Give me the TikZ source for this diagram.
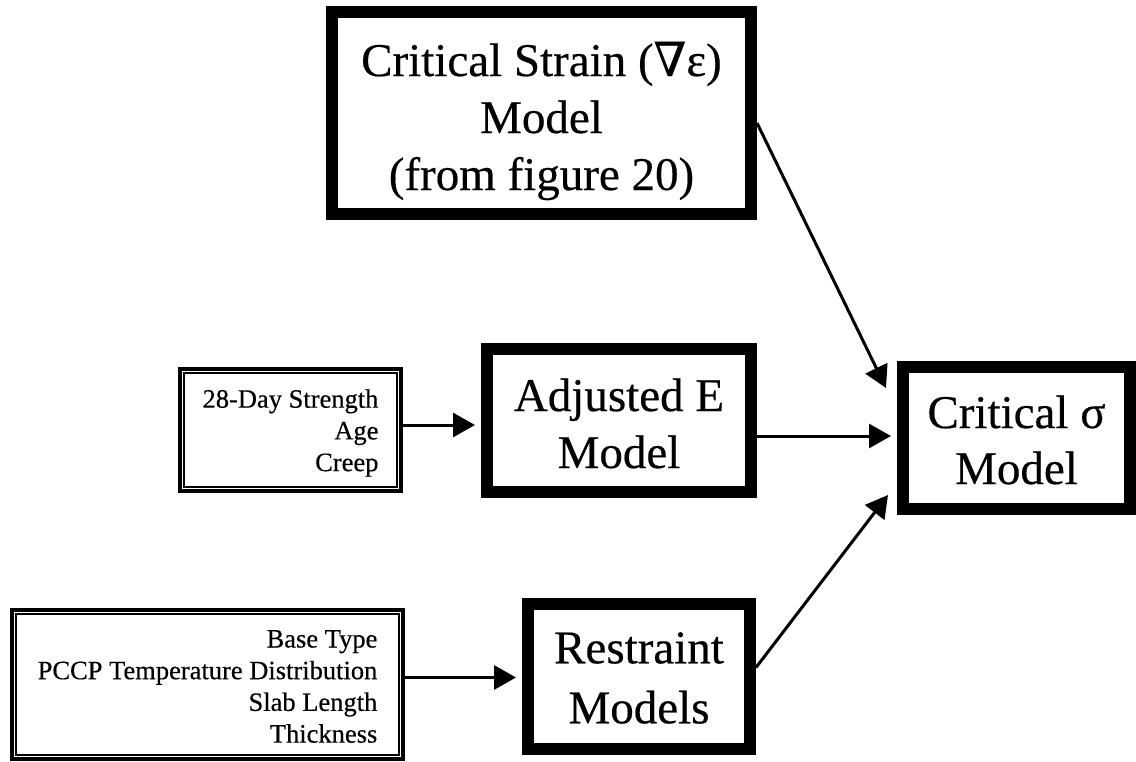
\documentclass[tikz,border=0pt]{standalone}
\usepackage{fontspec}
\setmainfont{Liberation Serif}[FakeBold=0.4]
\newfontfamily\nablafont{DejaVu Serif}[FakeBold=0.4]
\usetikzlibrary{arrows.meta}
\begin{document}
\begin{tikzpicture}[x=1pt,y=-1pt,
  model/.style={draw, line width=12pt, inner sep=0pt},
  inbox/.style={draw, line width=4pt, inner sep=0pt},
  big/.style={font=\fontsize{47}{57}\selectfont, align=center, inner sep=0pt},
  small/.style={font=\fontsize{26.5}{31.7}\selectfont, align=right, inner sep=0pt},
  link/.style={line width=3pt, -{Triangle[length=22pt,width=24pt]}},
]
\fill[white] (0,0) rectangle (1136,762);
\path[use as bounding box] (0,0) rectangle (1136,762);

% model boxes (heavy frames)
\node[model, minimum width=419pt, minimum height=202pt] (strain) at (541.5,113) {};
\node[model, minimum width=264pt, minimum height=143pt] (adj) at (619,420.5) {};
\node[model, minimum width=222pt, minimum height=145pt] (rest) at (639,676.5) {};
\node[model, minimum width=227pt, minimum height=142pt] (crit) at (1016.5,438) {};

\node[big] (strainT) at (541.5,121) {Critical Strain ({\nablafont ∇}ε)\\Model\\(from figure 20)};
\node[big] (adjT) at (619,423.5) {Adjusted E\\Model};
\node[big, font=\fontsize{47}{60}\selectfont] (restT) at (639,678) {Restraint\\Models};
\node[big, font=\fontsize{47}{56}\selectfont] (critT) at (1016.5,440) {Critical σ\\Model};

% input boxes (double frames)
\node[inbox, minimum width=221pt, minimum height=122pt] (in1) at (290.5,430) {};
\node[inbox, minimum width=391pt, minimum height=149pt] (in2) at (207.5,684.5) {};
\draw[line width=2pt] ([shift={(6,6)}]in1.north west) rectangle ([shift={(-6,-6)}]in1.south east);
\draw[line width=2pt] ([shift={(6,6)}]in2.north west) rectangle ([shift={(-6,-6)}]in2.south east);

\node[small] (in1T) at (290.5,433) {28-Day Strength\\Age\\Creep};
\node[small] (in2T) at (207.5,686.5) {Base Type\\PCCP Temperature Distribution\\Slab Length\\Thickness};

% connectors
\coordinate (a1) at ([yshift=5pt]in1.east);
\coordinate (a2) at ([yshift=7pt]in2.east);
\coordinate (a3) at ([yshift=-15.5pt]adj.east);
\coordinate (s1) at ([yshift=-10pt]strain.east);
\coordinate (s2) at ([yshift=9pt]rest.east);
\coordinate (t1) at ([shift={(-11,27)}]crit.north west);
\coordinate (t2) at ([shift={(-9,-20)}]crit.south west);

\draw[link, shorten >=6pt] (a1) -- (a1 -| adj.west);
\draw[link, shorten >=6pt] (a2) -- (a2 -| rest.west);
\draw[link, shorten >=6pt] (a3) -- (a3 -| crit.west);
\draw[link] (s1) -- (t1);
\draw[link] (s2) -- (t2);
\end{tikzpicture}
\end{document}
